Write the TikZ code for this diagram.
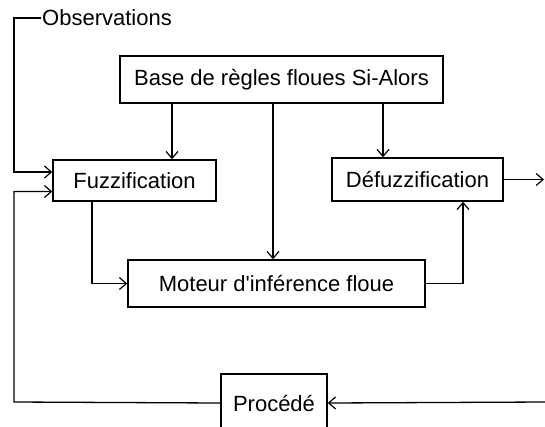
\documentclass[tikz,border=0pt]{standalone}
\usepackage{fontspec}
\setmainfont{Liberation Sans}
\usetikzlibrary{arrows.meta}

\begin{document}
\begin{tikzpicture}[x=1pt, y=-1pt,
		box/.style={draw, line width=1.4pt, inner sep=0pt, font=\fontsize{22}{26}\selectfont},
		flow/.style={line width=1.3pt, -{Straight Barb[length=7pt, width=12pt, line width=1.2pt]}}]
				\useasboundingbox (0,0) rectangle (545,426);

				% Nodes
				\node[box, minimum width=323pt, minimum height=47pt] (base) at (281.5, 79.5) {Base de règles floues Si-Alors};
				\node[box, minimum width=163pt, minimum height=41pt] (fuzz) at (134.5, 180.5) {Fuzzification};
				\node[box, minimum width=171pt, minimum height=43pt] (defuzz) at (417.5, 179.5) {Défuzzification};
				\node[box, minimum width=297pt, minimum height=47pt] (moteur) at (276.5, 283.5) {Moteur d\textquotesingle inférence floue};
				\node[box, minimum width=106pt, minimum height=58pt] (proc) at (274, 403) {Procédé};
				\node[font=\fontsize{22}{26}\selectfont, inner sep=1pt, anchor=west] (obs) at (41, 18) {Observations};
				\coordinate (sortie) at (544, 179.5);
				\coordinate (entree) at (545, 402);

				% Arrows
				\draw[flow] (obs.west) -- (14, 18) |- ([yshift=8.5pt]fuzz.west);
				\draw[flow] (proc.west) -- (14, 402) |- ([yshift=-11pt]fuzz.west);
				\draw[flow] (base.south -| 172,0) -- (172,0 |- fuzz.north);
				\draw[flow] (base.south -| 273,0) -- (273,0 |- moteur.north);
				\draw[flow] (base.south -| 383,0) -- (383,0 |- defuzz.north);
				\draw[flow] (fuzz.south -| 92,0) |- (moteur.west);
				\draw[flow] (moteur.east) -| (463,0 |- defuzz.south);
				\draw[flow] (defuzz.east) -- (sortie);
				\draw[flow] (entree) -- (proc.east);
			\end{tikzpicture}
\end{document}
